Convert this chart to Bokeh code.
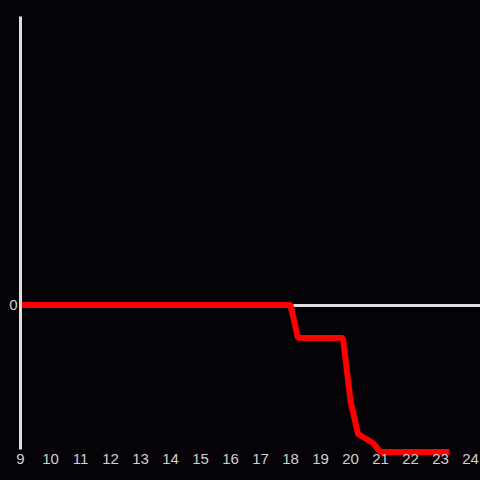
from bokeh.plotting import figure
from bokeh.models import FixedTicker, Range1d
from bokeh.embed import file_html
from bokeh.resources import INLINE

hours = [9, 18, 18.25, 19.75, 20.0, 20.25, 20.75, 21.0, 23.3]
values = [0, 0, -22, -22, -64, -86, -92, -98, -98]
x_ticks = list(range(9, 25))
y_ticks = [0]

BG = "#050308"
FG = "#e0e0e0"

p = figure(width=480, height=480, output_backend="svg", toolbar_location=None,
           x_range=Range1d(9, 24.333), y_range=Range1d(-100.33, 192.33),
           background_fill_color=BG, border_fill_color=BG,
           min_border_left=20, min_border_right=0, min_border_top=16, min_border_bottom=25)
p.outline_line_color = None

p.line(hours, values, line_color="#ff0000", line_width=6)

p.xaxis.ticker = FixedTicker(ticks=x_ticks)
p.yaxis.ticker = FixedTicker(ticks=y_ticks)
p.xaxis.axis_line_color = None
p.yaxis.axis_line_color = FG
p.yaxis.axis_line_width = 3
p.yaxis.bounds = (-96.33, 192.33)
for ax in (p.xaxis, p.yaxis):
    ax.major_tick_line_color = None
    ax.minor_tick_line_color = None
    ax.major_tick_out = 0
    ax.major_tick_in = 0
    ax.major_label_text_color = "#d0d0d0"
    ax.major_label_text_font = "Liberation Sans"
    ax.major_label_text_font_size = "15px"
p.xaxis.major_label_standoff = -2
p.yaxis.major_label_standoff = 3

p.xgrid.grid_line_color = None
p.ygrid.ticker = FixedTicker(ticks=y_ticks)
p.ygrid.grid_line_color = FG
p.ygrid.grid_line_width = 3
p.ygrid.grid_line_alpha = 1.0

html = file_html(p, INLINE)
html = html.replace("<head>", "<head><style>html,body{margin:0;padding:0;background:#050308;}</style>", 1)
open("out.html", "w").write(html)
